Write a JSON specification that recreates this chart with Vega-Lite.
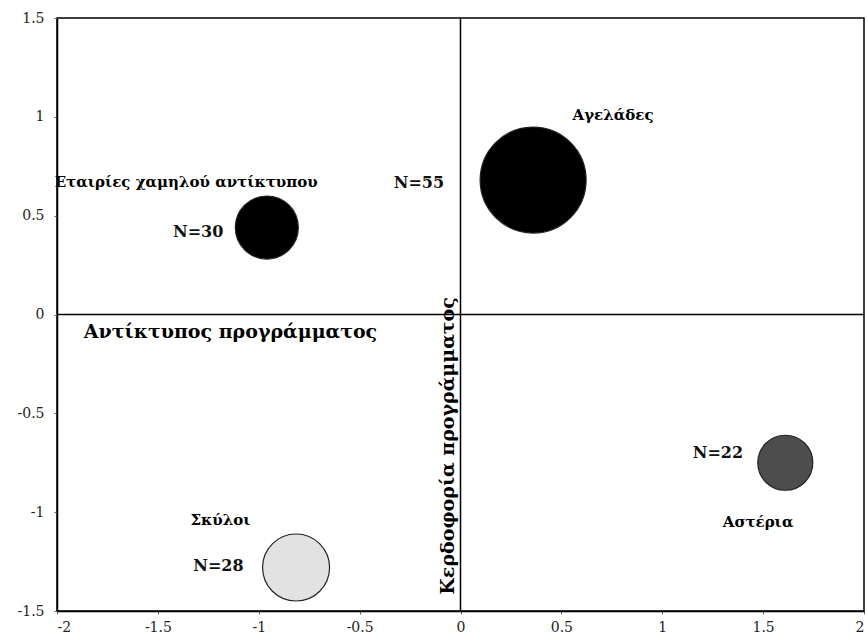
{
  "$schema": "https://vega.github.io/schema/vega-lite/v6.json",
  "autosize": "none",
  "width": 807,
  "height": 593,
  "padding": {"left": 57, "top": 18, "right": 3, "bottom": 27},
  "background": "white",
  "config": {
    "view": {"stroke": "black", "strokeWidth": 1.5},
    "axis": {"grid": false, "labelFont": "DejaVu Serif", "labelFontSize": 14, "labelColor": "#222", "domainColor": "black", "domainWidth": 1.5, "tickColor": "#666", "tickSize": 3, "title": null}
  },
  "datasets": {
    "bubbles": [
      {"group": "Αγελάδες", "n": 55, "x": 0.36, "y": 0.68},
      {"group": "Εταιρίες χαμηλού αντίκτυπου", "n": 30, "x": -0.96, "y": 0.44},
      {"group": "Αστέρια", "n": 22, "x": 1.61, "y": -0.75},
      {"group": "Σκύλοι", "n": 28, "x": -0.815, "y": -1.28}
    ],
    "labels": [
      {"kind": "name", "text": "Αγελάδες", "x": 0.756, "y": 1.01},
      {"kind": "name", "text": "Εταιρίες χαμηλού αντίκτυπου", "x": -1.36, "y": 0.67},
      {"kind": "name", "text": "Αστέρια", "x": 1.475, "y": -1.05},
      {"kind": "name", "text": "Σκύλοι", "x": -1.19, "y": -1.04},
      {"kind": "count", "text": "N=55", "x": -0.206, "y": 0.665},
      {"kind": "count", "text": "N=30", "x": -1.3, "y": 0.417},
      {"kind": "count", "text": "N=22", "x": 1.276, "y": -0.7},
      {"kind": "count", "text": "N=28", "x": -1.2, "y": -1.27},
      {"kind": "axisname", "text": "Αντίκτυπος προγράμματος", "x": -1.14, "y": -0.09}
    ],
    "vertical": [
      {"text": "Κερδοφορία προγράμματος", "x": -0.062, "y": -0.665}
    ],
    "zero": [{"v": 0}]
  },
  "layer": [
    {
      "data": {"name": "zero"},
      "mark": {"type": "rule", "color": "black", "strokeWidth": 1.5},
      "encoding": {"x": {"field": "v", "type": "quantitative", "scale": {"domain": [-2, 2]}}}
    },
    {
      "data": {"name": "zero"},
      "mark": {"type": "rule", "color": "black", "strokeWidth": 1.5},
      "encoding": {"y": {"field": "v", "type": "quantitative", "scale": {"domain": [-1.5, 1.5]}}}
    },
    {
      "data": {"name": "bubbles"},
      "mark": {"type": "point", "shape": "circle", "filled": true, "opacity": 1, "stroke": "#222", "strokeWidth": 1.2},
      "encoding": {
        "x": {"field": "x", "type": "quantitative", "scale": {"domain": [-2, 2], "nice": false, "zero": false},
          "axis": {"values": [-2, -1.5, -1, -0.5, 0, 0.5, 1, 1.5, 2], "labelExpr": "toString(datum.value)", "labelPadding": 6}},
        "y": {"field": "y", "type": "quantitative", "scale": {"domain": [-1.5, 1.5], "nice": false, "zero": false},
          "axis": {"values": [-1.5, -1, -0.5, 0, 0.5, 1, 1.5], "labelExpr": "toString(datum.value)", "labelPadding": 10}},
        "size": {"field": "group", "type": "nominal", "legend": null,
          "scale": {"type": "ordinal", "domain": ["Αγελάδες", "Εταιρίες χαμηλού αντίκτυπου", "Αστέρια", "Σκύλοι"], "range": [11236, 3969, 3025, 4489]}},
        "fill": {"field": "group", "type": "nominal", "legend": null,
          "scale": {"domain": ["Αγελάδες", "Εταιρίες χαμηλού αντίκτυπου", "Αστέρια", "Σκύλοι"], "range": ["#000000", "#000000", "#4d4d4d", "#e2e2e2"]}}
      }
    },
    {
      "data": {"name": "labels"},
      "transform": [{"filter": "datum.kind === 'name'"}],
      "mark": {"type": "text", "font": "DejaVu Serif", "fontWeight": "bold", "fontSize": 15, "color": "black"},
      "encoding": {
        "x": {"field": "x", "type": "quantitative"},
        "y": {"field": "y", "type": "quantitative"},
        "text": {"field": "text"}
      }
    },
    {
      "data": {"name": "labels"},
      "transform": [{"filter": "datum.kind === 'count'"}],
      "mark": {"type": "text", "font": "DejaVu Serif", "fontWeight": "bold", "fontSize": 16, "color": "#111"},
      "encoding": {
        "x": {"field": "x", "type": "quantitative"},
        "y": {"field": "y", "type": "quantitative"},
        "text": {"field": "text"}
      }
    },
    {
      "data": {"name": "labels"},
      "transform": [{"filter": "datum.kind === 'axisname'"}],
      "mark": {"type": "text", "font": "DejaVu Serif", "fontWeight": "bold", "fontSize": 19, "color": "black"},
      "encoding": {
        "x": {"field": "x", "type": "quantitative"},
        "y": {"field": "y", "type": "quantitative"},
        "text": {"field": "text"}
      }
    },
    {
      "data": {"name": "vertical"},
      "mark": {"type": "text", "font": "DejaVu Serif", "fontWeight": "bold", "fontSize": 19, "color": "black", "angle": 270},
      "encoding": {
        "x": {"field": "x", "type": "quantitative"},
        "y": {"field": "y", "type": "quantitative"},
        "text": {"field": "text"}
      }
    }
  ]
}
